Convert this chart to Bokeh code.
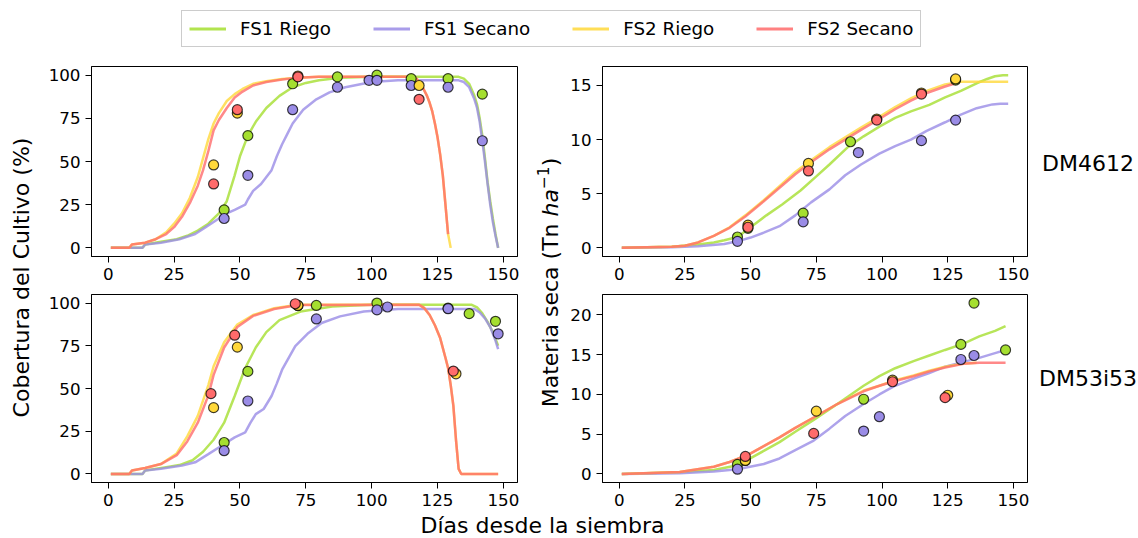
import math
from bokeh.plotting import figure
from bokeh.layouts import row, column
from bokeh.models import Range1d, FixedTicker, Legend, LegendItem, Label
from bokeh.core.properties import value
from bokeh.embed import file_html
from bokeh.resources import INLINE

# ---------------- data ----------------
series_names = ["FS1 Riego", "FS1 Secano", "FS2 Riego", "FS2 Secano"]
series_colors = ["#a5df30", "#9a8ce6", "#ffd83a", "#ff6b6b"]
cultivars = ["DM4612", "DM53i53"]
x_ticks = [0, 25, 50, 75, 100, 125, 150]
cov_ticks = [0, 25, 50, 75, 100]
m46_ticks = [0, 5, 10, 15]
m53_ticks = [0, 5, 10, 15, 20]

# --- DM4612 crop cover (%) : simulated ---
c46_sim_fs1r_x = [1, 13, 14, 20, 26, 30, 34, 38, 42, 45, 48, 50, 53, 56, 60, 65, 70, 75, 80, 88, 100, 115, 133, 135, 137, 139, 140, 141, 142, 143, 144, 145, 146, 147, 148]
c46_sim_fs1r_y = [0, 0, 2, 3.5, 5, 7, 10, 14, 20, 27, 42, 53, 65, 73, 81, 88, 93, 95.5, 97, 98.5, 99, 99, 99, 98, 95, 88, 83, 75, 65, 52, 38, 27, 17, 8, 0]
c46_sim_fs1s_x = [1, 13, 14, 20, 27, 33, 37, 40, 45, 48, 52, 53, 55, 58, 62, 64, 66, 68, 70, 74, 79, 84, 90, 100, 110, 133, 135, 137, 139, 140, 141, 142, 143, 144, 145, 146, 147, 148]
c46_sim_fs1s_y = [0, 0, 2, 3, 5, 8, 12, 15, 20, 22, 25, 28, 33, 37, 45, 53, 60, 66, 72, 80, 86, 90, 93, 96, 97, 97, 96, 93, 86, 81, 73, 62, 50, 37, 25, 15, 7, 0]
c46_sim_fs2r_x = [1, 8, 9, 14, 18, 22, 25, 28, 31, 34, 36, 38, 40, 42, 45, 48, 51, 55, 60, 66, 72, 80, 115, 117, 119, 121, 122, 123, 124, 125, 126, 127, 128, 129, 130]
c46_sim_fs2r_y = [0, 0, 2, 3, 5, 9, 14, 20, 29, 41, 52, 63, 72, 78, 85, 89, 92, 95, 96.5, 97.8, 98.5, 99, 99, 98, 94, 88, 84, 79, 72, 64, 54, 42, 25, 8, 0]
c46_sim_fs2s_x = [1, 8, 9, 14, 18, 22, 25, 28, 31, 34, 36, 38, 40, 42, 45, 48, 51, 55, 60, 66, 72, 80, 115, 117, 119, 121, 122, 123, 124, 125, 126, 127, 128, 129]
c46_sim_fs2s_y = [0, 0, 2, 3, 5, 8, 12, 18, 26, 36, 45, 56, 68, 74, 81, 87, 90.5, 94, 96, 97.5, 98.5, 99, 99, 98, 94, 88, 84, 79, 72, 64, 54, 42, 25, 8]
# --- DM4612 crop cover (%) : observed ---
c46_obs_fs1r_x = [44, 53, 70, 87, 102, 115, 129, 142]
c46_obs_fs1r_y = [22, 65, 95, 99, 100, 98, 98, 89]
c46_obs_fs1s_x = [44, 53, 70, 87, 99, 102, 115, 129, 142]
c46_obs_fs1s_y = [17, 42, 80, 93, 97, 97, 94, 93, 62]
c46_obs_fs2r_x = [40, 49, 72, 118]
c46_obs_fs2r_y = [48, 78, 99.5, 94]
c46_obs_fs2s_x = [40, 49, 72, 118]
c46_obs_fs2s_y = [37, 80, 99, 86]

# --- DM4612 dry matter (Tn/ha) : simulated ---
m46_sim_fs1r_x = [1, 20, 30, 36, 40, 45, 50, 56, 62, 69, 75, 80, 87, 93, 99, 105, 111, 118, 124, 130, 136, 140, 143, 146, 148]
m46_sim_fs1r_y = [0, 0.1, 0.3, 0.5, 0.7, 1.0, 1.9, 3.0, 4.0, 5.3, 6.6, 7.7, 9.3, 10.3, 11.2, 12.0, 12.6, 13.2, 13.9, 14.5, 15.2, 15.6, 15.85, 15.95, 15.95]
m46_sim_fs1s_x = [1, 20, 30, 40, 45, 50, 55, 61, 67, 73, 80, 86, 92, 99, 105, 111, 117, 124, 130, 136, 142, 145, 148]
m46_sim_fs1s_y = [0, 0.05, 0.15, 0.35, 0.6, 0.95, 1.4, 2.0, 3.0, 4.2, 5.4, 6.7, 7.7, 8.7, 9.4, 10.0, 10.8, 11.6, 12.3, 12.9, 13.25, 13.3, 13.3]
m46_sim_fs2r_x = [1, 20, 25, 30, 36, 42, 48, 55, 61, 67, 73, 80, 86, 92, 99, 105, 111, 117, 124, 130, 135, 140, 148]
m46_sim_fs2r_y = [0, 0.1, 0.2, 0.5, 1.1, 1.9, 3.0, 4.4, 5.7, 7.0, 8.1, 9.3, 10.2, 11.1, 12.1, 13.0, 13.8, 14.5, 15.1, 15.35, 15.35, 15.35, 15.35]
m46_sim_fs2s_x = [1, 20, 25, 30, 36, 42, 48, 55, 61, 67, 73, 80, 86, 92, 99, 105, 111, 117, 124, 128]
m46_sim_fs2s_y = [0, 0.1, 0.2, 0.5, 1.1, 1.85, 2.9, 4.3, 5.55, 6.8, 7.9, 9.1, 10.0, 10.9, 11.9, 12.8, 13.6, 14.3, 14.9, 15.2]
# --- DM4612 dry matter : observed ---
m46_obs_fs1r_x = [45, 49, 70, 88, 128]
m46_obs_fs1r_y = [1.0, 1.8, 3.2, 9.8, 15.5]
m46_obs_fs1s_x = [45, 70, 91, 115, 128]
m46_obs_fs1s_y = [0.6, 2.4, 8.8, 9.9, 11.8]
m46_obs_fs2r_x = [49, 72, 98, 115, 128]
m46_obs_fs2r_y = [2.1, 7.8, 11.9, 14.3, 15.6]
m46_obs_fs2s_x = [49, 72, 98, 115]
m46_obs_fs2s_y = [1.9, 7.1, 11.8, 14.2]

# --- DM53i53 crop cover (%) : simulated ---
c53_sim_fs1r_x = [1, 13, 14, 22, 27, 32, 36, 40, 44, 48, 52, 56, 60, 65, 73, 85, 100, 120, 138, 140, 142, 144, 146, 148]
c53_sim_fs1r_y = [0, 0, 2, 4, 5.2, 8, 13, 20, 30, 45.6, 62, 74, 83, 90, 95, 98, 99, 99, 99, 97.5, 94, 89, 83, 75]
c53_sim_fs1s_x = [1, 13, 14, 20, 28, 33, 38, 43, 48, 52, 54, 56, 59, 62, 64, 66, 71, 76, 81, 88, 97, 110, 139, 141, 143, 145, 146, 147, 148]
c53_sim_fs1s_y = [0, 0, 2, 3, 4.9, 6.8, 11.6, 16.5, 21.4, 24.3, 30, 35, 38, 45.6, 53, 61, 74.8, 82.5, 88.3, 92.2, 95, 96.5, 96.5, 94.5, 91, 86, 82, 78, 73]
c53_sim_fs2r_x = [1, 8, 9, 14, 20, 26, 30, 34, 38, 40, 44, 49, 55, 63, 72, 118, 120, 122, 124, 126, 128, 129, 130, 131, 132, 133, 134, 148]
c53_sim_fs2r_y = [0, 0, 2, 3.5, 5.8, 12, 22, 34, 52, 63, 77, 87.4, 93, 97, 99, 99, 97, 93, 87, 79.5, 68, 62, 52, 40, 20, 3, 0, 0]
c53_sim_fs2s_x = [1, 8, 9, 14, 20, 26, 30, 34, 38, 40, 44, 49, 55, 63, 72, 118, 120, 122, 124, 126, 128, 129, 130, 131, 132, 133, 134, 148]
c53_sim_fs2s_y = [0, 0, 2, 3.5, 5.8, 11, 19, 30, 46, 58, 74, 86, 92.5, 96.5, 98.8, 99, 97, 93, 87, 79.5, 68, 62, 52, 40, 20, 3, 0, 0]
# --- DM53i53 crop cover (%) : observed ---
c53_obs_fs1r_x = [44, 53, 72, 79, 102, 129, 137, 147]
c53_obs_fs1r_y = [18.4, 60, 98.5, 98.6, 100, 97, 93.8, 89.3]
c53_obs_fs1s_x = [44, 53, 79, 102, 106, 129, 148]
c53_obs_fs1s_y = [13.6, 42.7, 90.7, 96, 97.7, 96.7, 82]
c53_obs_fs2r_x = [40, 49, 72, 132]
c53_obs_fs2r_y = [38.8, 74.2, 98.6, 58.6]
c53_obs_fs2s_x = [39, 48, 71, 131]
c53_obs_fs2s_y = [47, 81.2, 99.6, 60.2]

# --- DM53i53 dry matter : simulated ---
m53_sim_fs1r_x = [1, 23, 36, 45, 49, 55, 61, 67, 74, 83, 93, 99, 105, 112, 118, 124, 131, 137, 143, 147]
m53_sim_fs1r_y = [0, 0.2, 0.5, 1.1, 1.8, 2.9, 4.0, 5.3, 6.8, 8.8, 11.1, 12.3, 13.3, 14.2, 14.9, 15.6, 16.4, 17.3, 18.0, 18.6]
m53_sim_fs1s_x = [1, 23, 36, 45, 55, 61, 67, 74, 80, 86, 93, 99, 105, 112, 118, 124, 131, 137, 143, 147]
m53_sim_fs1s_y = [0, 0.1, 0.3, 0.6, 1.25, 1.95, 3.0, 4.2, 5.7, 7.3, 8.8, 10.0, 11.1, 12.0, 12.7, 13.5, 14.1, 14.6, 15.2, 15.6]
m53_sim_fs2r_x = [1, 23, 36, 42, 49, 55, 61, 67, 74, 83, 93, 99, 105, 112, 118, 124, 131, 136]
m53_sim_fs2r_y = [0, 0.25, 0.9, 1.5, 2.4, 3.5, 4.6, 5.8, 7.1, 8.8, 10.5, 11.1, 11.8, 12.4, 13.0, 13.5, 13.9, 14.0]
m53_sim_fs2s_x = [1, 23, 36, 42, 49, 55, 61, 67, 74, 83, 93, 99, 105, 112, 118, 124, 131, 137, 147]
m53_sim_fs2s_y = [0, 0.25, 0.9, 1.5, 2.4, 3.5, 4.6, 5.8, 7.1, 8.8, 10.4, 11.1, 11.7, 12.3, 12.9, 13.4, 13.85, 14.0, 14.0]
# --- DM53i53 dry matter : observed ---
m53_obs_fs1r_x = [45, 48, 93, 130, 135, 147]
m53_obs_fs1r_y = [1.2, 1.7, 9.4, 16.3, 21.5, 15.6]
m53_obs_fs1s_x = [45, 93, 99, 130, 135]
m53_obs_fs1s_y = [0.6, 5.4, 7.2, 14.4, 14.9]
m53_obs_fs2r_x = [48, 75, 104, 125]
m53_obs_fs2r_y = [1.7, 7.9, 11.8, 9.9]
m53_obs_fs2s_x = [48, 74, 104, 124]
m53_obs_fs2s_y = [2.2, 5.1, 11.6, 9.6]

# ---------------- styling / layout ----------------
FONT = "DejaVu Sans"
TICK_FS = "16.7px"
LABEL_FS = "22px"
LEGEND_FS = "18.3px"


def make_panel(sims, obs, yr, yticks, fw, fh, bl, br, bt, bb):
    p = figure(frame_width=fw, frame_height=fh,
               x_range=Range1d(-6.35, 155.35), y_range=Range1d(*yr),
               output_backend="svg", toolbar_location=None,
               min_border_left=bl, min_border_right=br,
               min_border_top=bt, min_border_bottom=bb,
               background_fill_color="white", border_fill_color="white")
    p.grid.visible = False
    p.outline_line_color = "black"
    p.outline_line_width = 1
    p.outline_line_alpha = 1
    p.xaxis.ticker = FixedTicker(ticks=x_ticks)
    p.yaxis.ticker = FixedTicker(ticks=yticks)
    p.axis.major_tick_out = 6
    p.axis.major_tick_in = 0
    p.axis.minor_tick_line_color = None
    p.axis.major_tick_line_color = "black"
    p.axis.axis_line_color = "black"
    p.axis.major_label_text_font = FONT
    p.axis.major_label_text_font_size = TICK_FS
    p.axis.major_label_text_color = "black"
    p.axis.major_label_standoff = 5
    for (xs, ys), col in zip(sims, series_colors):
        p.line(xs, ys, line_color=col, line_width=2.5, line_alpha=0.8)
    for (xs, ys), col in zip(obs, series_colors):
        p.scatter(xs, ys, size=10, marker="circle", fill_color=col, fill_alpha=1.0,
                  line_color="black", line_width=1.2, line_alpha=0.75)
    return p


def blank(w, h):
    p = figure(width=w, height=h, x_range=Range1d(0, w), y_range=Range1d(0, h),
               output_backend="svg", toolbar_location=None, min_border=0,
               x_axis_type=None, y_axis_type=None, outline_line_color=None,
               background_fill_color="white", border_fill_color="white")
    p.grid.visible = False
    return p


tl = make_panel([(c46_sim_fs1r_x, c46_sim_fs1r_y), (c46_sim_fs1s_x, c46_sim_fs1s_y),
                 (c46_sim_fs2r_x, c46_sim_fs2r_y), (c46_sim_fs2s_x, c46_sim_fs2s_y)],
                [(c46_obs_fs1r_x, c46_obs_fs1r_y), (c46_obs_fs1s_x, c46_obs_fs1s_y),
                 (c46_obs_fs2r_x, c46_obs_fs2r_y), (c46_obs_fs2s_x, c46_obs_fs2s_y)],
                (-5, 105), cov_ticks, 426, 190, 51, 8, 8, 31)
bl = make_panel([(c53_sim_fs1r_x, c53_sim_fs1r_y), (c53_sim_fs1s_x, c53_sim_fs1s_y),
                 (c53_sim_fs2r_x, c53_sim_fs2r_y), (c53_sim_fs2s_x, c53_sim_fs2s_y)],
                [(c53_obs_fs1r_x, c53_obs_fs1r_y), (c53_obs_fs1s_x, c53_obs_fs1s_y),
                 (c53_obs_fs2r_x, c53_obs_fs2r_y), (c53_obs_fs2s_x, c53_obs_fs2s_y)],
                (-5, 105), cov_ticks, 426, 188, 51, 8, 7, 30)
tr = make_panel([(m46_sim_fs1r_x, m46_sim_fs1r_y), (m46_sim_fs1s_x, m46_sim_fs1s_y),
                 (m46_sim_fs2r_x, m46_sim_fs2r_y), (m46_sim_fs2s_x, m46_sim_fs2s_y)],
                [(m46_obs_fs1r_x, m46_obs_fs1r_y), (m46_obs_fs1s_x, m46_obs_fs1s_y),
                 (m46_obs_fs2r_x, m46_obs_fs2r_y), (m46_obs_fs2s_x, m46_obs_fs2s_y)],
                (-0.8, 16.75), m46_ticks, 425, 190, 40, 7, 8, 31)
br = make_panel([(m53_sim_fs1r_x, m53_sim_fs1r_y), (m53_sim_fs1s_x, m53_sim_fs1s_y),
                 (m53_sim_fs2r_x, m53_sim_fs2r_y), (m53_sim_fs2s_x, m53_sim_fs2s_y)],
                [(m53_obs_fs1r_x, m53_obs_fs1r_y), (m53_obs_fs1s_x, m53_obs_fs1s_y),
                 (m53_obs_fs2r_x, m53_obs_fs2r_y), (m53_obs_fs2s_x, m53_obs_fs2s_y)],
                (-1.075, 22.575), m53_ticks, 425, 188, 40, 7, 7, 30)

BODY_H = 454

# left y label
lab_l = blank(40, BODY_H)
lab_l.add_layout(Label(x=20.5, y=235, x_units="screen", y_units="screen",
                       text="Cobertura del Cultivo (%)", angle=math.pi / 2,
                       text_align="center", text_baseline="middle",
                       text_font=FONT, text_font_size=LABEL_FS, text_color="black"))

# middle y label: "Materia seca (Tn ha^-1)" composed of pieces
fs = 22.0
lab_m = blank(37, BODY_H)
bx = 25
y0 = 230 - 0.5 * (8.673 + 1.247 + 1.032 + 0.390) * fs
pieces = [
    ("Materia seca (Tn", bx, y0, "normal", LABEL_FS),
    ("ha", bx, y0 + 8.673 * fs, "italic", LABEL_FS),
    ("\u22121", bx - 0.36 * fs, y0 + (8.673 + 1.247) * fs, "normal", "%.1fpx" % (0.7 * fs)),
    (")", bx, y0 + (8.673 + 1.247 + 1.032) * fs, "normal", LABEL_FS),
]
for txt, px, py, style, size in pieces:
    lab_m.add_layout(Label(x=px, y=py, x_units="screen", y_units="screen", text=txt,
                           angle=math.pi / 2, text_align="left", text_baseline="alphabetic",
                           text_font=FONT, text_font_style=style, text_font_size=size,
                           text_color="black"))

# right cultivar labels
lab_r = blank(104, BODY_H)
for name, ypos in zip(cultivars, [349, 134.5]):
    lab_r.add_layout(Label(x=53.5, y=ypos, x_units="screen", y_units="screen", text=name,
                           text_align="center", text_baseline="middle",
                           text_font=FONT, text_font_size=LABEL_FS, text_color="black"))

# header with legend
hdr = blank(1138, 58)
items = []
for name, col in zip(series_names, series_colors):
    r = hdr.line(x=[-20, -10], y=[-20, -20], line_color=col, line_width=3, line_alpha=0.85)
    items.append(LegendItem(label=value(name), renderers=[r]))
leg = Legend(items=items, orientation="horizontal", location=(181, 11),
             padding=7, spacing=42, margin=0,
             glyph_width=37, glyph_height=21, label_height=21, label_standoff=14,
             label_text_font=FONT, label_text_font_size=LEGEND_FS,
             label_text_color="black", label_text_baseline="middle",
             border_line_color="#cccccc", border_line_width=1, border_line_alpha=1,
             background_fill_color="white", background_fill_alpha=1)
hdr.add_layout(leg)

# footer x label
ftr = blank(1138, 26)
ftr.add_layout(Label(x=542, y=13, x_units="screen", y_units="screen",
                     text="D\u00edas desde la siembra", text_align="center",
                     text_baseline="middle", text_font=FONT,
                     text_font_size=LABEL_FS, text_color="black"))

body = row(lab_l, column(tl, bl), lab_m, column(tr, br), lab_r)
layout = column(hdr, body, ftr)

open("out.html", "w").write(file_html(layout, INLINE, "Cobertura y materia seca"))
